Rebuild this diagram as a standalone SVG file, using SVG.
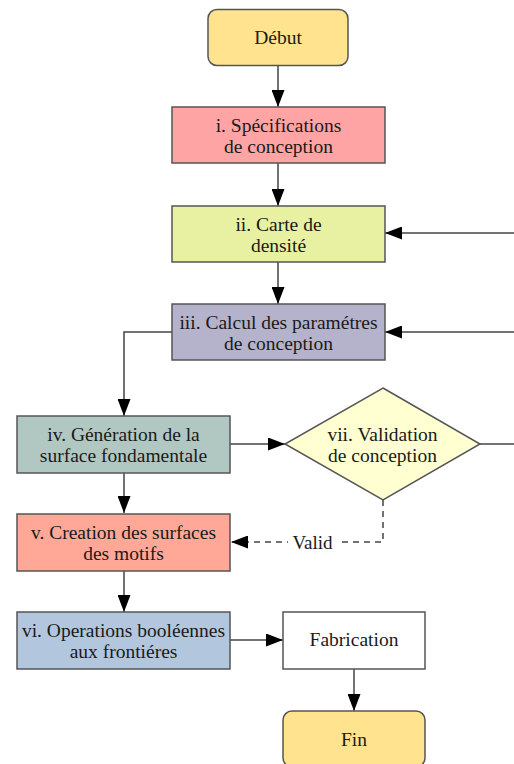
<svg xmlns="http://www.w3.org/2000/svg" width="514" height="764" viewBox="0 0 514 764" font-family="'Liberation Serif', 'Times New Roman', Tinos, 'DejaVu Serif', serif">
<style>
text{font-family:'Liberation Serif','Times New Roman',Tinos,'DejaVu Serif',serif;font-size:19.5px;fill:#1a1a1a;text-anchor:middle}
.box{stroke:#555;stroke-width:1.5}
.conn{fill:none;stroke:#444;stroke-width:1.5}
.dash{stroke-dasharray:6 5}
</style>
<defs>
<marker id="ah" markerUnits="userSpaceOnUse" markerWidth="17" markerHeight="13" viewBox="0 0 17 13" refX="17" refY="6.5" orient="auto">
<path d="M0,0 L17,6.5 L0,13 z" fill="#000"/>
</marker>
</defs>
<rect width="514" height="764" fill="#fff"/>
<g id="connectors">
<path class="conn" d="M278,65 V107" marker-end="url(#ah)"/>
<path class="conn" d="M278,163 V206" marker-end="url(#ah)"/>
<path class="conn" d="M514,233 H385" marker-end="url(#ah)"/>
<path class="conn" d="M278,262 V304" marker-end="url(#ah)"/>
<path class="conn" d="M514,332 H385" marker-end="url(#ah)"/>
<path class="conn" d="M172,332 H124 V416" marker-end="url(#ah)"/>
<path class="conn" d="M230,444 H285" marker-end="url(#ah)"/>
<path class="conn" d="M480,444 H514"/>
<path class="conn dash" d="M383,500 V542 H231" marker-end="url(#ah)"/>
<rect x="288" y="532" width="49" height="20" fill="#fff"/>
<text x="312.5" y="549" font-family="'Liberation Serif', serif" style="font-size:19px">Valid</text>
<path class="conn" d="M124,473 V513" marker-end="url(#ah)"/>
<path class="conn" d="M124,571 V612" marker-end="url(#ah)"/>
<path class="conn" d="M230,640 H283" marker-end="url(#ah)"/>
<path class="conn" d="M354,669 V711" marker-end="url(#ah)"/>
</g>
<g id="debut">
<rect class="box" x="208" y="9.5" width="140" height="56" rx="9" fill="#FFE38F"/>
<text x="278" y="44">Début</text>
</g>
<g id="n1">
<rect class="box" x="172" y="107" width="213" height="56" fill="#FFA4A4"/>
<text x="278.5" y="132">i. Spécifications</text>
<text x="278.5" y="153">de conception</text>
</g>
<g id="n2">
<rect class="box" x="172" y="206" width="213" height="56" fill="#E8F1A2"/>
<text x="278.5" y="231">ii. Carte de</text>
<text x="278.5" y="252">densité</text>
</g>
<g id="n3">
<rect class="box" x="172" y="304" width="213" height="56" fill="#B5B2CC"/>
<text x="278.5" y="329">iii. Calcul des paramétres</text>
<text x="278.5" y="350">de conception</text>
</g>
<g id="n4">
<rect class="box" x="17" y="416" width="213" height="57" fill="#B1C8C2"/>
<text x="123.5" y="441">iv. Génération de la</text>
<text x="123.5" y="462">surface fondamentale</text>
</g>
<g id="n7">
<polygon class="box" points="383,388 480,444 383,500 285,444" fill="#FFFFD2"/>
<text x="382.5" y="441">vii. Validation</text>
<text x="382.5" y="462">de conception</text>
</g>
<g id="n5">
<rect class="box" x="17" y="514" width="213" height="57" fill="#FFA898"/>
<text x="123.5" y="539">v. Creation des surfaces</text>
<text x="123.5" y="560">des motifs</text>
</g>
<g id="n6">
<rect class="box" x="17" y="612" width="213" height="57" fill="#B2C6DE"/>
<text x="123.5" y="637">vi. Operations booléennes</text>
<text x="123.5" y="658">aux frontiéres</text>
</g>
<g id="fabrication">
<rect class="box" x="283" y="612" width="142" height="57" fill="#fff"/>
<text x="354" y="646">Fabrication</text>
</g>
<g id="fin">
<rect class="box" x="283" y="711" width="142" height="56" rx="9" fill="#FFE38F"/>
<text x="354" y="746">Fin</text>
</g>
</svg>
